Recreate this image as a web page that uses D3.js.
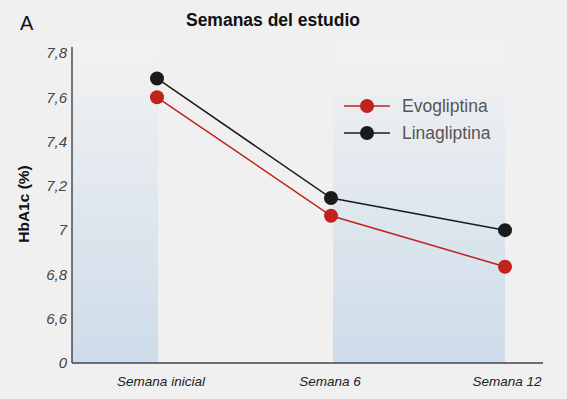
<!DOCTYPE html>
<html><head><meta charset="utf-8">
<script src="https://cdn.jsdelivr.net/npm/d3@7"></script>
<style>html,body{margin:0;padding:0;background:#f0f0f0;}svg{display:block;font-family:"Liberation Sans",Arial,sans-serif;}</style>
</head><body>
<svg id="c" width="567" height="399"></svg>
<script>
const categories = ["Semana inicial", "Semana 6", "Semana 12"];
const evogliptina = [7.60, 7.065, 6.835];
const linagliptina = [7.685, 7.145, 7.00];
const yTicks = [6.4, 6.6, 6.8, 7.0, 7.2, 7.4, 7.6, 7.8];
const yTickLabels = ["0", "6,6", "6,8", "7", "7,2", "7,4", "7,6", "7,8"];
const seriesNames = ["Evogliptina", "Linagliptina"];
const seriesColors = ["#c0221d", "#1b1b1b"];

const svg = d3.select("#c");
const x = d3.scalePoint().domain(categories).range([157, 505]);
const y = d3.scaleLinear().domain([6.4, 7.8]).range([363, 53]);

const defs = svg.append("defs");
const g = defs.append("linearGradient").attr("id","bg").attr("x1",0).attr("y1",0).attr("x2",0).attr("y2",1);
g.append("stop").attr("offset","0%").attr("stop-color","#f2f2f2");
g.append("stop").attr("offset","100%").attr("stop-color","#cddcea");

// shaded bands
const bands = [[72, x(categories[0])+1], [x(categories[1])+2, x(categories[2])]];
svg.selectAll("rect.band").data(bands).enter().append("rect")
  .attr("x", d=>d[0]).attr("width", d=>d[1]-d[0])
  .attr("y", 42).attr("height", 363-42).attr("fill","url(#bg)");

// axes
svg.append("line").attr("x1",72).attr("x2",72).attr("y1",47).attr("y2",363).attr("stroke","#333").attr("stroke-width",1.3);
svg.append("line").attr("x1",72).attr("x2",543).attr("y1",363).attr("y2",363).attr("stroke","#444").attr("stroke-width",1.6);

svg.selectAll("text.yt").data(yTicks).enter().append("text")
  .attr("x", 67).attr("y", d=>y(d)).attr("dy","0.35em").attr("text-anchor","end")
  .attr("font-size",15).attr("font-style","italic").attr("fill","#444")
  .text((d,i)=>yTickLabels[i]);

svg.selectAll("text.xt").data(categories).enter().append("text")
  .attr("x", (d,i)=>x(d)+[4,-1,2][i]).attr("y", 386).attr("text-anchor","middle")
  .attr("font-size",13.5).attr("font-style","italic").attr("fill","#222")
  .text(d=>d);

// titles
svg.append("text").attr("x",20).attr("y",30).attr("font-size",20).attr("fill","#111").text("A");
svg.append("text").attr("x",273).attr("y",26).attr("text-anchor","middle").attr("font-size",17.5).attr("font-weight","bold").attr("fill","#111").text("Semanas del estudio");
svg.append("text").attr("transform","translate(29,204) rotate(-90)").attr("text-anchor","middle")
  .attr("font-size",15.5).attr("font-weight","bold").attr("fill","#111").text("HbA1c (%)");

// series
const line = d3.line().x((d,i)=>x(categories[i])).y(d=>y(d));
[evogliptina, linagliptina].forEach((vals, k) => {
  svg.append("path").attr("d", line(vals)).attr("fill","none").attr("stroke", seriesColors[k]).attr("stroke-width",1.5);
  svg.selectAll("circle.s"+k).data(vals).enter().append("circle")
    .attr("cx",(d,i)=>x(categories[i])).attr("cy",d=>y(d)).attr("r",7).attr("fill",seriesColors[k]);
});

// legend
seriesNames.forEach((n,k)=>{
  const ly = 106 + k*27;
  svg.append("line").attr("x1",344).attr("x2",390).attr("y1",ly).attr("y2",ly).attr("stroke",seriesColors[k]).attr("stroke-width",1.5);
  svg.append("circle").attr("cx",367).attr("cy",ly).attr("r",7).attr("fill",seriesColors[k]);
  svg.append("text").attr("x",402).attr("y",ly).attr("dy","0.36em").attr("font-size",17.5).attr("fill","#555").text(n);
});
</script>
</body></html>
